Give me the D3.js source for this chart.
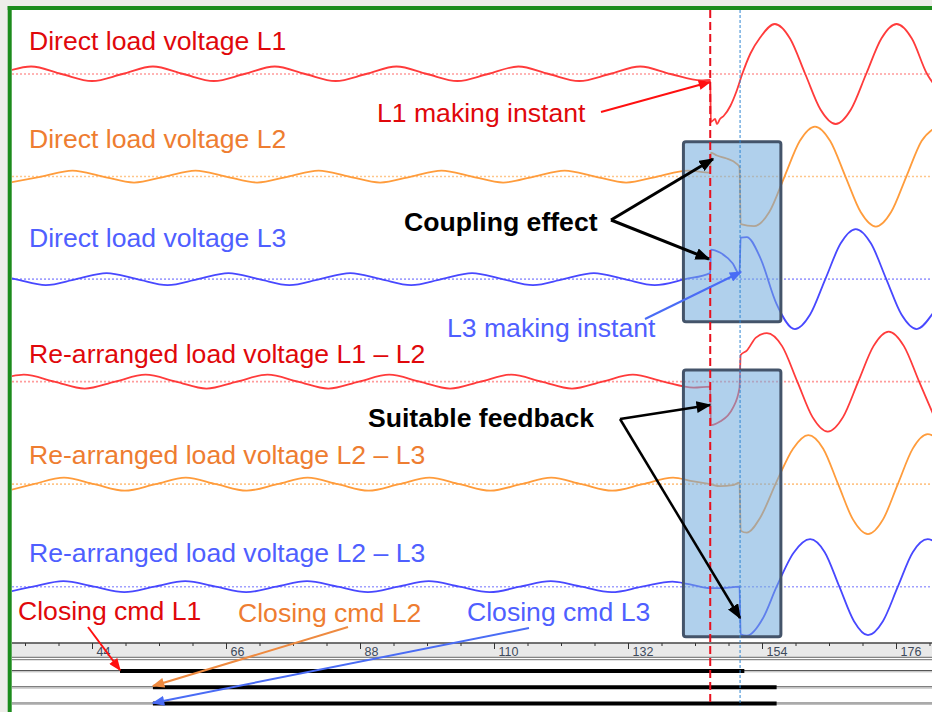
<!DOCTYPE html>
<html>
<head>
<meta charset="utf-8">
<script src="https://cdn.jsdelivr.net/npm/d3@7"></script>
<style>
  body { margin: 0; background: #eeede9; }
  svg { display: block; font-family: "Liberation Sans", Arial, sans-serif; }
  .lbl { font-size: 26.6px; }
  .bold { font-weight: bold; fill: #000; }
  .axis text { font-size: 12.5px; fill: #3d4a5c; font-family: "Liberation Sans", Arial, sans-serif; }
  .axis line { stroke: #333; }
</style>
</head>
<body>
<svg id="chart" width="932" height="712"></svg>
<script>
// time in ms, value relative to post-closing amplitude
var vL1 = [[30.5,0.07],[34,0.15],[39,0],[44,-0.14],[49,0],[54,0.15],[59,0],[64,-0.14],[69,0],[74,0.15],[79,0],[84,-0.14],[89,0],[94,0.15],[99,0],[104,-0.14],[109,0],[114,0.15],[119,0],[124,-0.14],[129,0],[134,0.15],[139,0],[144,-0.13],[145.5,-0.12],[145.6,-0.96],[146.3,-0.9],[146.6,-1.0],[147.1,-0.9],[147.7,-0.84],[148.8,-0.64],[149.8,-0.35],[150.7,-0.02],[152.1,0.41],[153.7,0.73],[156.1,1.0],[158.6,0.71],[161.1,0],[163.6,-0.71],[166.1,-1],[168.6,-0.71],[171.1,0],[173.6,0.71],[176.1,1],[178.6,0.71],[181.1,0],[182.5,-0.25]];
var vL2 = [[30.5,-0.12],[35.7,0],[40.8,0.12],[45.8,0],[50.9,-0.12],[56,0],[61,0.12],[66,0],[71.1,-0.12],[76.2,0],[81.2,0.12],[86.2,0],[91.3,-0.12],[96.4,0],[101.4,0.12],[106.4,0],[111.5,-0.12],[116.6,0],[121.6,0.12],[126.6,0],[131.7,-0.12],[136.8,0],[141.8,0.12],[145.5,0.08],[145.6,0.48],[146.6,0.42],[148.2,0.36],[149.8,0.26],[150.3,0.19],[150.5,-0.95],[152.7,-0.99],[155.2,-0.71],[157.7,0],[160.2,0.71],[162.7,1],[165.2,0.71],[167.7,0],[170.2,-0.71],[172.7,-1],[175.2,-0.71],[177.7,0],[180.2,0.71],[182.7,1]];
var vL3 = [[30.5,0.02],[31.4,0],[36.4,-0.12],[41.4,0],[46.4,0.12],[51.4,0],[56.4,-0.12],[61.4,0],[66.4,0.12],[71.4,0],[76.4,-0.12],[81.4,0],[86.4,0.12],[91.4,0],[96.4,-0.12],[101.4,0],[106.4,0.12],[111.4,0],[116.4,-0.12],[121.4,0],[126.4,0.12],[131.4,0],[136.4,-0.12],[141.4,0],[145.5,0.12],[145.6,0.59],[147.1,0.53],[149.2,0.31],[150.3,0.10],[150.5,0.83],[151.5,0.84],[153.7,0.43],[156.4,-0.5],[159.4,-1.0],[161.9,-0.71],[164.4,0],[166.9,0.71],[169.4,1],[171.9,0.71],[174.4,0],[176.9,-0.71],[179.4,-1],[181.9,-0.71],[183,-0.5]];
var vL1L2 = [[30.5,0.1],[32.8,0.14],[37.8,0],[42.8,-0.14],[47.8,0],[52.8,0.14],[57.8,0],[62.8,-0.14],[67.8,0],[72.8,0.14],[77.8,0],[82.8,-0.14],[87.8,0],[92.8,0.14],[97.8,0],[102.8,-0.14],[107.8,0],[112.8,0.14],[117.8,0],[122.8,-0.14],[127.8,0],[132.8,0.14],[137.8,0],[142.8,-0.12],[145.5,-0.1],[145.6,-0.87],[147.1,-0.8],[149.2,-0.53],[150.3,-0.13],[150.5,0.53],[151.5,0.62],[153,0.88],[154.8,0.97],[157.3,0.71],[159.8,0],[162.3,-0.71],[164.8,-1],[167.3,-0.71],[169.8,0],[172.3,0.71],[174.8,1],[177.3,0.71],[179.8,0],[182.3,-0.71]];
var vL2L3 = [[30.5,-0.12],[34.4,0],[39.4,0.13],[44.4,0],[49.4,-0.13],[54.4,0],[59.4,0.13],[64.4,0],[69.4,-0.13],[74.4,0],[79.4,0.13],[84.4,0],[89.4,-0.13],[94.4,0],[99.4,0.13],[104.4,0],[109.4,-0.13],[114.4,0],[119.4,0.13],[124.4,0],[129.4,-0.13],[134.4,0],[139.4,0.13],[142.5,0.06],[145.5,0.0],[147.1,-0.04],[149.2,-0.02],[150.3,0.03],[150.5,-0.93],[151.5,-0.97],[153.7,-0.67],[156.4,0.05],[159.1,0.71],[161.6,0.98],[164.05,0.71],[166.5,0],[168.95,-0.71],[171.4,-1],[173.85,-0.71],[176.3,0],[178.75,0.71],[181.2,1],[183,0.9]];
var vL2L3b = [[30.5,-0.1],[34.3,0],[39.3,0.11],[44.3,0],[49.3,-0.11],[54.3,0],[59.3,0.11],[64.3,0],[69.3,-0.11],[74.3,0],[79.3,0.11],[84.3,0],[89.3,-0.11],[94.3,0],[99.3,0.11],[104.3,0],[109.3,-0.11],[114.3,0],[119.3,0.11],[124.3,0],[129.3,-0.11],[134.3,0],[139.3,0.1],[142,0.05],[145.5,-0.03],[147.5,-0.03],[150.3,0.0],[150.5,-0.95],[151.5,-0.98],[154.2,-0.62],[156.4,0.0],[159.2,0.68],[161.9,0.95],[164.3,0.69],[166.7,0],[169.1,-0.69],[171.4,-0.97],[173.85,-0.69],[176.3,0],[178.75,0.69],[181.2,0.95],[183,0.85]];

var traceKeys = ["L1", "L2", "L3", "L1L2", "L2L3a", "L2L3b"];
var traceLabels = ["Direct load voltage L1", "Direct load voltage L2", "Direct load voltage L3",
  "Re-arranged load voltage L1 \u2013 L2", "Re-arranged load voltage L2 \u2013 L3", "Re-arranged load voltage L2 \u2013 L3"];
var traceValues = [vL1, vL2, vL3, vL1L2, vL2L3, vL2L3b];

var cmdNames = ["L1", "L2", "L3"];
var cmdStart = [48.6, 54.0, 54.0];
var cmdEnd = [151.1, 156.4, 156.4];

var makingL1 = 145.5, makingL3 = 150.4;
var majorTicks = [44, 66, 88, 110, 132, 154, 176];

// styling
var waveColor = ["#ff3b3b", "#ff9c3c", "#4848ff", "#ff3b3b", "#ff9c3c", "#4848ff"];
var zeroColor = ["#ff9c9c", "#ffc68a", "#a0a0ff", "#ff9c9c", "#ffc68a", "#a0a0ff"];
var textColor = ["#e0080b", "#ee7d31", "#4f5fff", "#e0080b", "#ee7d31", "#4f5fff"];
var labelY = [50, 148, 247, 363, 464, 562];

var svg = d3.select("#chart");
var W = 932, H = 712;

var x = d3.scaleLinear().domain([44, 176]).range([92, 896]);
var rowY = d3.scalePoint().domain(traceKeys).range([74, 586.7]);
var amp = d3.scaleLinear().domain([-1, 1]).range([50, -50]);
var cmdY = d3.scalePoint().domain(cmdNames).range([670.5, 703]);

// frame
svg.append("rect").attr("x", 11.5).attr("y", 9.5).attr("width", W).attr("height", H).attr("fill", "#fff");
svg.append("line").attr("x1", 9.7).attr("x2", 9.7).attr("y1", 6).attr("y2", H)
  .attr("stroke", "#1c8c1c").attr("stroke-width", 4);
svg.append("line").attr("x1", 7.7).attr("x2", W).attr("y1", 7.9).attr("y2", 7.9)
  .attr("stroke", "#1c8c1c").attr("stroke-width", 4);

svg.append("defs").append("clipPath").attr("id", "plot")
  .append("rect").attr("x", 12).attr("y", 10).attr("width", W - 12).attr("height", H - 10);

var plot = svg.append("g").attr("clip-path", "url(#plot)");

// zero lines
plot.selectAll(".zero").data(traceKeys).enter().append("line")
  .attr("x1", 12).attr("x2", W)
  .attr("y1", function(d) { return rowY(d); }).attr("y2", function(d) { return rowY(d); })
  .attr("stroke", function(d, i) { return zeroColor[i]; })
  .attr("stroke-width", 1.6).attr("stroke-dasharray", "2,2");

// waves
traceKeys.forEach(function(k, i) {
  var line = d3.line()
    .x(function(d) { return x(d[0]); })
    .y(function(d) { return rowY(k) + amp(d[1]); })
    .curve(d3.curveMonotoneX);
  plot.append("path").datum(traceValues[i])
    .attr("d", line).attr("fill", "none")
    .attr("stroke", waveColor[i]).attr("stroke-width", 1.8);
});

// time axis band
plot.append("rect").attr("x", 12).attr("y", 643).attr("width", W).attr("height", 14).attr("fill", "#e9e9e9");
plot.append("line").attr("x1", 12).attr("x2", W).attr("y1", 643).attr("y2", 643).attr("stroke", "#444").attr("stroke-width", 1.5);
plot.append("line").attr("x1", 12).attr("x2", W).attr("y1", 657.3).attr("y2", 657.3).attr("stroke", "#666").attr("stroke-width", 1);
plot.append("line").attr("x1", 12).attr("x2", W).attr("y1", 659.6).attr("y2", 659.6).attr("stroke", "#8a8a8a").attr("stroke-width", 1.2);

var minorTicks = d3.range(33, 183, 5.5);
plot.append("g").attr("class", "axis").attr("transform", "translate(0,643)")
  .call(d3.axisBottom(x).tickValues(minorTicks).tickSize(3).tickSizeOuter(0).tickFormat(""))
  .call(function(g) { g.select(".domain").remove(); });
plot.append("g").attr("class", "axis").attr("transform", "translate(0,643)")
  .call(d3.axisBottom(x).tickValues(majorTicks).tickSize(6).tickSizeOuter(0).tickFormat(d3.format("d")))
  .call(function(g) {
    g.select(".domain").remove();
    g.selectAll("text").attr("text-anchor", "start").attr("x", 4).attr("y", 4.2).attr("dy", "0.71em");
  });

// command rows
cmdNames.forEach(function(c, i) {
  var y = cmdY(c);
  plot.append("line").attr("x1", 12).attr("x2", W).attr("y1", y).attr("y2", y)
    .attr("stroke", "#555").attr("stroke-width", 1.2);
  plot.append("line").attr("x1", 12).attr("x2", W).attr("y1", y + 1.3).attr("y2", y + 1.3)
    .attr("stroke", "#b0b0b0").attr("stroke-width", 1);
  plot.append("line").attr("x1", x(cmdStart[i])).attr("x2", x(cmdEnd[i])).attr("y1", y + 0.5).attr("y2", y + 0.5)
    .attr("stroke", "#000").attr("stroke-width", 4.2);
});

// highlight boxes
var boxes = [{t0: 141.1, t1: 157.1, y0: 141.7, y1: 321.7}, {t0: 141.1, t1: 157.1, y0: 370, y1: 636.7}];
svg.selectAll(".box").data(boxes).enter().append("rect")
  .attr("x", function(d) { return x(d.t0); })
  .attr("y", function(d) { return d.y0; })
  .attr("width", function(d) { return x(d.t1) - x(d.t0); })
  .attr("height", function(d) { return d.y1 - d.y0; })
  .attr("rx", 2.5)
  .attr("fill", "rgba(115,172,222,0.56)")
  .attr("stroke", "#44546a").attr("stroke-width", 3);

// making instants
svg.append("line").attr("x1", x(makingL1)).attr("x2", x(makingL1)).attr("y1", 10).attr("y2", 706)
  .attr("stroke", "#e8101e").attr("stroke-width", 2).attr("stroke-dasharray", "8,4");
svg.append("line").attr("x1", x(makingL3)).attr("x2", x(makingL3)).attr("y1", 10).attr("y2", 706)
  .attr("stroke", "#2f86d2").attr("stroke-width", 1).attr("stroke-dasharray", "3,2");

// labels
svg.selectAll(".trlbl").data(traceLabels).enter().append("text")
  .attr("class", "lbl").attr("x", 29).attr("y", function(d, i) { return labelY[i]; })
  .attr("fill", function(d, i) { return textColor[i]; })
  .text(function(d) { return d; });

var notes = [
  {text: "L1 making instant", x: 377, y: 122, fill: "#e0080b", cls: "lbl"},
  {text: "L3 making instant", x: 447, y: 337, fill: "#4f5fff", cls: "lbl"},
  {text: "Coupling effect", x: 404, y: 231, fill: "#000", cls: "lbl bold"},
  {text: "Suitable feedback", x: 368, y: 427, fill: "#000", cls: "lbl bold"},
  {text: "Closing cmd L1", x: 18, y: 620, fill: "#e0080b", cls: "lbl"},
  {text: "Closing cmd L2", x: 238, y: 622, fill: "#ee7d31", cls: "lbl"},
  {text: "Closing cmd L3", x: 467, y: 621, fill: "#4f5fff", cls: "lbl"}
];
svg.selectAll(".note").data(notes).enter().append("text")
  .attr("class", function(d) { return d.cls; })
  .attr("x", function(d) { return d.x; }).attr("y", function(d) { return d.y; })
  .attr("fill", function(d) { return d.fill; })
  .text(function(d) { return d.text; });

// arrows
var heads = {red: "#ff1010", black: "#000", blue: "#4a6cf5", orange: "#ee8a40"};
var defs = svg.select("defs");
Object.keys(heads).forEach(function(k) {
  var big = k === "black";
  defs.append("marker").attr("id", "ah-" + k)
    .attr("markerUnits", "userSpaceOnUse")
    .attr("viewBox", "0 0 10 8").attr("refX", 9).attr("refY", 4)
    .attr("markerWidth", big ? 15 : 13).attr("markerHeight", big ? 12 : 10)
    .attr("orient", "auto")
    .append("path").attr("d", "M0,0 L10,4 L0,8 Z").attr("fill", heads[k]);
});

var arrows = [
  {p: [[601, 112], [710, 82]], c: "red", w: 2},
  {p: [[611, 220], [713, 159]], c: "black", w: 3},
  {p: [[611, 220], [709, 259]], c: "black", w: 3},
  {p: [[645, 319], [741, 272]], c: "blue", w: 2},
  {p: [[620, 419], [710, 405]], c: "black", w: 2.5},
  {p: [[620, 419], [740, 618]], c: "black", w: 2.5},
  {p: [[88, 627], [120, 670]], c: "red", w: 2},
  {p: [[348, 627], [153, 686]], c: "orange", w: 2},
  {p: [[529, 628], [153, 703]], c: "blue", w: 2}
];
svg.selectAll(".arr").data(arrows).enter().append("line")
  .attr("x1", function(d) { return d.p[0][0]; }).attr("y1", function(d) { return d.p[0][1]; })
  .attr("x2", function(d) { return d.p[1][0]; }).attr("y2", function(d) { return d.p[1][1]; })
  .attr("stroke", function(d) { return heads[d.c]; })
  .attr("stroke-width", function(d) { return d.w; })
  .attr("marker-end", function(d) { return "url(#ah-" + d.c + ")"; });
</script>
</body>
</html>
